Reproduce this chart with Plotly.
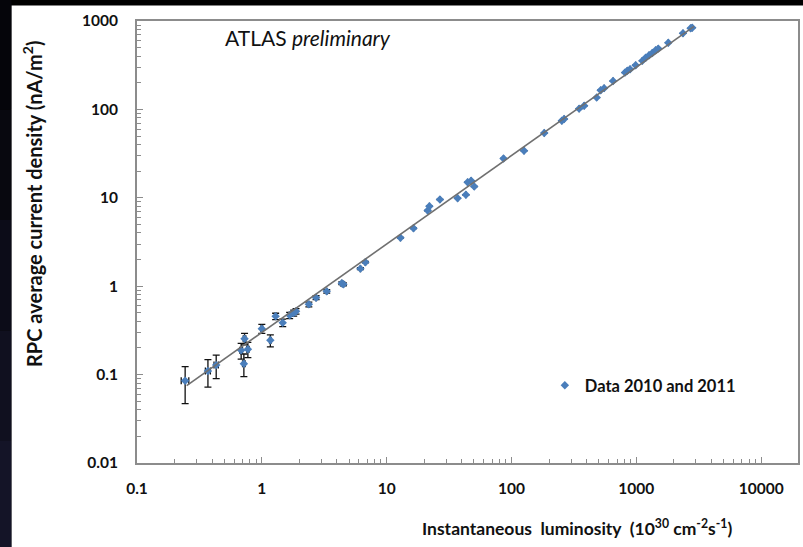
import plotly.graph_objects as go

# RPC current density vs instantaneous luminosity (2010 + 2011 runs)
lumi = [0.243, 0.370, 0.431, 0.727, 0.683, 0.773, 0.718, 1.00, 1.17, 1.29,
        1.47, 1.67, 1.80, 1.88, 2.38, 2.72, 3.31, 4.37, 4.50, 6.16,
        6.75, 12.9, 16.4, 21.3, 22.0, 26.7, 37.0, 43.1, 44.5, 47.5,
        50.3, 86.3, 126, 183, 253, 264, 348, 382, 481, 518,
        552, 651, 812, 847, 891, 987, 1117, 1187, 1264, 1343,
        1427, 1500, 1803, 2364, 2720, 2805]
current = [0.085, 0.110, 0.128, 0.255, 0.188, 0.194, 0.133, 0.331, 0.244, 0.456,
           0.387, 0.468, 0.497, 0.520, 0.623, 0.742, 0.874, 1.08, 1.05, 1.58,
           1.87, 3.53, 4.53, 7.17, 8.02, 9.55, 9.87, 10.8, 15.0, 15.6,
           13.4, 27.9, 34.1, 54.0, 74.3, 77.7, 102, 110, 136, 165,
           174, 209, 261, 273, 285, 316, 354, 385, 410, 435,
           467, 487, 569, 726, 827, 840]
err_current = 0.038   # nA/m^2
err_lumi = 0.017      # 10^30 cm^-2 s^-1

# power-law trendline  J = a * L^b
fit_a = 0.30
fit_b = 1.0
fit_lumi = [0.25, 2900]
fit_current = [fit_a * v ** fit_b for v in fit_lumi]

x_major = [0.1, 1, 10, 100, 1000, 10000]
x_labels = ["0.1", "1", "10", "100", "1000", "10000"]
y_major = [0.01, 0.1, 1, 10, 100, 1000]
y_labels = ["0.01", "0.1", "1", "10", "100", "1000"]

x_minor = [m * d for d in [0.1, 1, 10, 100, 1000] for m in range(2, 10)]
y_minor = [m * d for d in [0.01, 0.1, 1, 10, 100] for m in range(2, 10)]

FONT = "Lato"
BLUE = "#4a7ebb"
FRAME = "#8c8c8c"

fig = go.Figure()
fig.add_trace(go.Scatter(
    x=lumi, y=current, mode="markers", name="Data 2010 and 2011",
    marker=dict(symbol="diamond", size=6.5, color=BLUE),
    error_y=dict(type="constant", value=err_current, color="#111111",
                 thickness=1.3, width=3.5),
    error_x=dict(type="constant", value=err_lumi, color="#111111",
                 thickness=1.3, width=3.5),
))
fig.add_trace(go.Scatter(
    x=fit_lumi, y=fit_current, mode="lines", showlegend=False,
    line=dict(color="#707070", width=1.6),
))

axis_common = dict(
    type="log", showgrid=False, zeroline=False,
    showline=True, linecolor=FRAME, linewidth=2, mirror=True,
    ticks="inside", ticklen=6, tickcolor=FRAME, tickwidth=1,
    tickfont=dict(family=FONT, size=15.5, color="#111111", weight="bold"),
    tickmode="array",
)
fig.update_xaxes(
    **axis_common, range=[-1, 4.295], tickvals=x_major, ticktext=x_labels,
    ticklabelstandoff=10,
    minor=dict(tickmode="array", tickvals=x_minor, ticks="inside",
               ticklen=4, tickcolor=FRAME),
)
fig.update_yaxes(
    **axis_common, range=[-2, 3], tickvals=y_major, ticktext=y_labels,
    ticklabelstandoff=14,
    minor=dict(tickmode="array", tickvals=y_minor, ticks="inside",
               ticklen=4, tickcolor=FRAME),
)

# slide background: dark border around a white chart panel
shapes = [dict(type="rect", xref="paper", yref="paper", layer="below",
               x0=-0.19, x1=1.01, y0=-0.20, y1=1.035,
               fillcolor="white", line=dict(width=0))]
band_colors = ["#05050a", "#08080f", "#0c0c18", "#10101f", "#141427"]
for i, c in enumerate(band_colors):
    shapes.append(dict(type="rect", xref="paper", yref="paper", layer="below",
                       x0=-0.3, x1=-0.19, y0=1.05 - (i + 1) * 0.25,
                       y1=1.05 - i * 0.25, fillcolor=c, line=dict(width=0)))

fig.update_layout(
    width=803, height=547,
    margin=dict(l=137, r=3, t=21, b=84),
    paper_bgcolor="#000000", plot_bgcolor="white",
    font=dict(family=FONT, color="#111111"),
    shapes=shapes,
    showlegend=True,
    legend=dict(x=0.617, y=0.215, xanchor="left", yanchor="top",
                bgcolor="rgba(0,0,0,0)", itemwidth=30,
                font=dict(family=FONT, size=16.5, color="#111111", weight="bold")),
    annotations=[
        dict(text="ATLAS <i>preliminary</i>", xref="paper", yref="paper",
             x=0.13, y=0.962, xanchor="left", yanchor="middle", showarrow=False,
             font=dict(family=FONT, size=21, color="#111111")),
        dict(text="Instantaneous  luminosity  (10<sup>30</sup> cm<sup>-2</sup>s<sup>-1</sup>)",
             xref="paper", yref="paper", x=0.665, y=-0.145,
             xanchor="center", yanchor="middle", showarrow=False,
             font=dict(family=FONT, size=17.5, color="#111111", weight="bold")),
        dict(text="RPC average current density (nA/m<sup>2</sup>)",
             xref="paper", yref="paper", x=-0.158, y=0.585, textangle=-90,
             xanchor="center", yanchor="middle", showarrow=False,
             font=dict(family=FONT, size=20, color="#111111", weight="bold")),
    ],
)

fig.write_html("out.html")
